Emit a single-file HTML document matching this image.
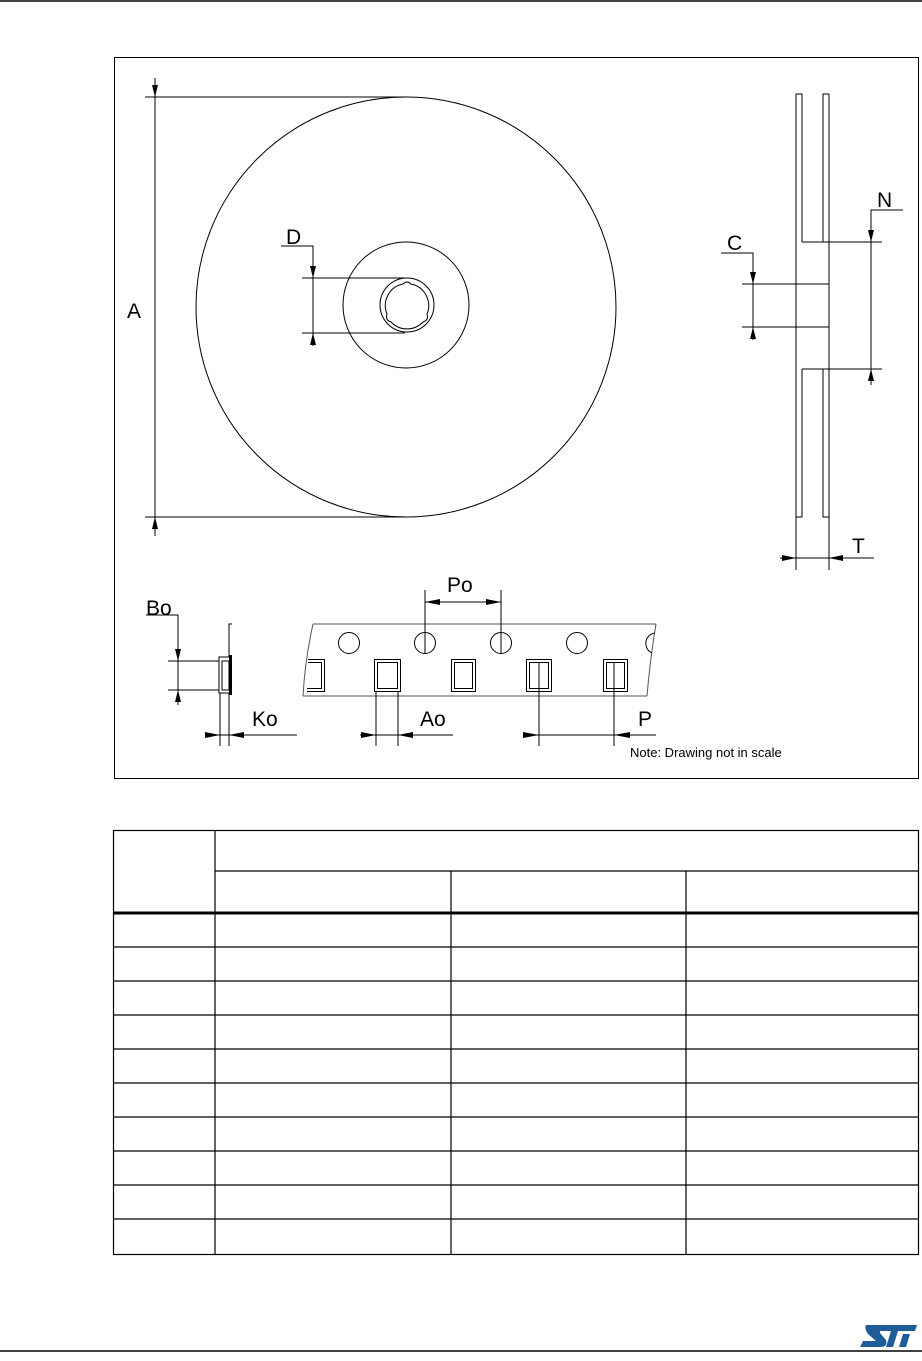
<!DOCTYPE html>
<html><head><meta charset="utf-8"><style>
html,body{margin:0;padding:0;background:#fff;}
svg{display:block;}
text{font-family:"Liberation Sans",Arial,sans-serif;fill:#000;}
</style></head><body>
<svg width="922" height="1361" viewBox="0 0 922 1361" xmlns="http://www.w3.org/2000/svg">
<line x1="0" y1="1" x2="922" y2="1" stroke="#000" stroke-width="1.5"/>
<rect x="114.5" y="57.5" width="804" height="721" fill="none" stroke="#000" stroke-width="1"/>
<g fill="none" stroke="#000" stroke-width="1">
<circle cx="406" cy="307" r="210"/>
<circle cx="406" cy="305" r="63"/>
<circle cx="407" cy="305" r="27"/>
<path d="M403,284 Q407,280 411,284 A22,22 0 0 1 427,314 Q429,320 423,322 A22,22 0 0 1 391,322 Q385,320 387,314 A22,22 0 0 1 403,284 Z"/>
<line x1="145" y1="97" x2="406" y2="97"/>
<line x1="145" y1="517" x2="406" y2="517"/>
<line x1="155" y1="78" x2="155" y2="536"/>
<line x1="302" y1="278" x2="405" y2="278"/>
<line x1="302" y1="333" x2="405" y2="333"/>
<polyline points="281,246 313,246 313,346"/>
<line x1="796" y1="94" x2="796" y2="570"/>
<line x1="829" y1="94" x2="829" y2="570"/>
<polyline points="796,94 802,94 802,242"/>
<polyline points="823,242 823,94 829,94"/>
<line x1="802" y1="242" x2="882" y2="242"/>
<line x1="802" y1="369" x2="882" y2="369"/>
<polyline points="802,369 802,517 796,517"/>
<polyline points="823,369 823,517 829,517"/>
<line x1="742" y1="284" x2="829" y2="284"/>
<line x1="742" y1="327" x2="829" y2="327"/>
<polyline points="721,253 753,253 753,340"/>
<polyline points="903,210 871,210 871,385"/>
<line x1="780" y1="558" x2="874" y2="558"/>
<path d="M313,624 L656,624 M303,696 L647,696 M313,624 Q305,660 303,696 M656,624 Q650,660 647,696" stroke="#555"/>
<circle cx="349" cy="643" r="10.5"/>
<circle cx="425" cy="643" r="10.5"/>
<circle cx="501" cy="643" r="10.5"/>
<circle cx="577" cy="643" r="10.5"/>
<path d="M655,633 A10.5,10.5 0 0 0 652,653"/>
<rect x="374.5" y="659.5" width="26" height="32"/><rect x="377.5" y="662.5" width="20" height="26"/>
<rect x="451.5" y="659.5" width="24" height="32"/><rect x="454.5" y="662.5" width="18" height="26"/>
<rect x="526.5" y="659.5" width="25" height="32"/><rect x="529.5" y="662.5" width="19" height="26"/>
<rect x="603.5" y="659.5" width="24" height="32"/><rect x="606.5" y="662.5" width="18" height="26"/>
<polyline points="308,659.5 324.5,659.5 324.5,691.5 307,691.5"/>
<polyline points="308,662.5 321.5,662.5 321.5,688.5 307,688.5"/>
<line x1="425" y1="590" x2="425" y2="654"/>
<line x1="501" y1="590" x2="501" y2="654"/>
<line x1="425" y1="602" x2="501" y2="602"/>
<line x1="376" y1="691" x2="376" y2="746"/>
<line x1="398" y1="691" x2="398" y2="746"/>
<line x1="360" y1="735" x2="453" y2="735"/>
<line x1="539" y1="662" x2="539" y2="746"/>
<line x1="614" y1="662" x2="614" y2="746"/>
<line x1="523" y1="735" x2="656" y2="735"/>
<polyline points="168,661 219,661 219,690 168,690"/>
<polyline points="219,661 219,657 229,657 229,624 232,624"/>
<polyline points="219,690 219,693 229,693"/>
<rect x="222" y="661" width="7" height="29"/>
<line x1="220" y1="693" x2="220" y2="746"/>
<line x1="229" y1="693" x2="229" y2="746"/>
<line x1="205" y1="735" x2="297" y2="735"/>
<polyline points="146,615 178,615 178,705"/>
</g>
<rect x="229" y="655" width="3" height="40" fill="#000"/>
<g fill="#000">
<polygon points="155,97 152,85 158,85"/><polygon points="155,517 152,529 158,529"/>
<polygon points="313,278 310,266 316,266"/><polygon points="313,333 310,345 316,345"/>
<polygon points="753,284 750,272 756,272"/><polygon points="753,327 750,339 756,339"/>
<polygon points="871,242 868,230 874,230"/><polygon points="871,369 868,381 874,381"/>
<polygon points="178,661 175,649 181,649"/><polygon points="178,690 175,702 181,702"/>
<polygon points="796,558 782,555 782,561"/><polygon points="829,558 843,555 843,561"/>
<polygon points="220,735 205,732 205,738"/><polygon points="229,735 244,732 244,738"/>
<polygon points="376,735 361,732 361,738"/><polygon points="398,735 413,732 413,738"/>
<polygon points="539,735 523,732 523,738"/><polygon points="614,735 630,732 630,738"/>
<polygon points="425,602 440,599 440,605"/><polygon points="501,602 486,599 486,605"/>
</g>
<g font-size="21">
<text x="127" y="318">A</text>
<text x="286" y="244">D</text>
<text x="727" y="250">C</text>
<text x="877" y="207">N</text>
<text x="852" y="553">T</text>
<text x="146" y="615">Bo</text>
<text x="252" y="726">Ko</text>
<text x="420" y="726">Ao</text>
<text x="638" y="726">P</text>
<text x="447" y="592">Po</text>
</g>
<text x="630" y="757" font-size="13">Note: Drawing not in scale</text>
<g stroke="#000" stroke-width="1.2" fill="none">
<rect x="113.5" y="830.5" width="805" height="424"/>
<line x1="215" y1="830" x2="215" y2="1254"/>
<line x1="215" y1="871" x2="919" y2="871"/>
<line x1="451" y1="871" x2="451" y2="1254"/>
<line x1="686" y1="871" x2="686" y2="1254"/>
<line x1="113" y1="913" x2="919" y2="913" stroke-width="3"/>
<line x1="113" y1="947" x2="919" y2="947"/>
<line x1="113" y1="981" x2="919" y2="981"/>
<line x1="113" y1="1015" x2="919" y2="1015"/>
<line x1="113" y1="1049" x2="919" y2="1049"/>
<line x1="113" y1="1083" x2="919" y2="1083"/>
<line x1="113" y1="1117" x2="919" y2="1117"/>
<line x1="113" y1="1151" x2="919" y2="1151"/>
<line x1="113" y1="1185" x2="919" y2="1185"/>
<line x1="113" y1="1219" x2="919" y2="1219"/>
</g>
<line x1="0" y1="1351" x2="922" y2="1351" stroke="#000" stroke-width="1.5"/>
<g fill="#1f5c99">
<path d="M866,1325 L917,1325 L915,1331 L898,1331 L893,1347 L886,1347 L891,1331 L880,1331 L880,1333 L886,1340 Q888,1347 880,1347 L860,1347 L863,1341 L876,1341 L868,1334 Q864,1328 866,1325 Z"/>
<path d="M903,1334 L910,1334 L906,1347 L899,1347 Z"/>
</g>
</svg>
</body></html>
